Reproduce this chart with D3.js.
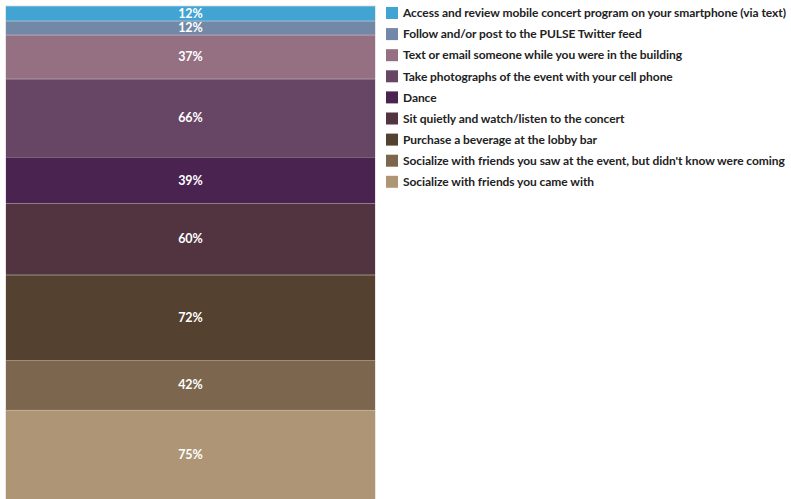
<!DOCTYPE html>
<html>
<head>
<meta charset="utf-8">
<script src="https://cdn.jsdelivr.net/npm/d3@7"></script>
<style>
  html, body { margin: 0; padding: 0; background: #fff; }
  svg { display: block; }
</style>
</head>
<body>
<div id="chart"></div>
<script>
// legend order, top to bottom
const activities = [
    "Access and review mobile concert program on your smartphone (via text)",
    "Follow and/or post to the PULSE Twitter feed",
    "Text or email someone while you were in the building",
    "Take photographs of the event with your cell phone",
    "Dance",
    "Sit quietly and watch/listen to the concert",
    "Purchase a beverage at the lobby bar",
    "Socialize with friends you saw at the event, but didn't know were coming",
    "Socialize with friends you came with"
];
const percents = [12, 12, 37, 66, 39, 60, 72, 42, 75];
const colors = ["#41a4d2", "#7189a6", "#956f82", "#674565", "#4a2350",
                "#51343f", "#55412f", "#7c664e", "#ae9576"];
const barName = ["Responses"];

(function() {
    const W = 791, H = 499;

    const svg = d3.select("#chart")
        .append("svg")
        .attr("width", W)
        .attr("height", H);

    // one row with all activities, stacked from the bottom up
    const row = {group: barName[0]};
    activities.forEach((a, i) => row[a] = percents[i]);

    const stackKeys = activities.slice().reverse();
    const series = d3.stack().keys(stackKeys)([row]);
    const total = d3.sum(percents);

    const color = d3.scaleOrdinal()
        .domain(activities)
        .range(colors);

    const x = d3.scaleBand()
        .domain(barName)
        .range([6, 375])
        .padding(0);

    const y = d3.scaleLinear()
        .domain([0, total])
        .range([499, 6.3]);

    // faint frame behind the bar
    svg.append("rect")
        .attr("x", x(barName[0]) - 1)
        .attr("y", y(total) - 1)
        .attr("width", x.bandwidth() + 2)
        .attr("height", y(0) - y(total) + 2)
        .attr("fill", "#e6e6e6");

    const layers = svg.selectAll("g.layer")
        .data(series)
        .enter()
        .append("g")
        .attr("class", "layer")
        .attr("fill", d => color(d.key));

    layers.selectAll("rect")
        .data(d => d)
        .enter()
        .append("rect")
        .attr("x", d => x(d.data.group))
        .attr("y", d => y(d[1]))
        .attr("width", x.bandwidth())
        .attr("height", d => y(d[0]) - y(d[1]));

    // thin light separators between segments
    svg.selectAll("line.sep")
        .data(series.slice(1))
        .enter()
        .append("line")
        .attr("class", "sep")
        .attr("x1", x(barName[0]))
        .attr("x2", x(barName[0]) + x.bandwidth())
        .attr("y1", d => Math.round(y(d[0][0])) + 0.5)
        .attr("y2", d => Math.round(y(d[0][0])) + 0.5)
        .attr("stroke", "rgba(255,255,255,0.22)")
        .attr("stroke-width", 1);

    // value labels
    svg.selectAll("text.val")
        .data(series)
        .enter()
        .append("text")
        .attr("class", "val")
        .attr("x", x(barName[0]) + x.bandwidth() / 2)
        .attr("y", d => (y(d[0][0]) + y(d[0][1])) / 2)
        .attr("dy", "0.35em")
        .attr("text-anchor", "middle")
        .style("fill", "#fff")
        .style("font-family", "Lato, 'Open Sans', sans-serif")
        .style("font-weight", "700")
        .style("font-size", "12.5px")
        .text(d => d[0].data[d.key] + "%");

    // legend
    const legend = svg.append("g")
        .attr("transform", "translate(386, 7)");

    const labels = [];
    activities.forEach((a, i) => {
        const item = legend.append("g")
            .attr("transform", `translate(0, ${i * 21.1})`);

        item.append("rect")
            .attr("width", 12)
            .attr("height", 12)
            .attr("fill", color(a));

        labels.push(item.append("text")
            .attr("x", 17)
            .attr("y", 6)
            .attr("dy", "0.35em")
            .style("fill", "#222")
            .style("font-family", "Lato, 'Open Sans', sans-serif")
            .style("font-weight", "700")
            .style("font-size", "12px")
            .text(a));
    });

    // stretch legend texts a little so the longest line ends near the right edge
    const longest = d3.max(labels, t => t.node().getComputedTextLength());
    const k = Math.min(1.04, 383 / longest);
    labels.forEach(t => {
        const len = t.node().getComputedTextLength();
        t.attr("textLength", len * k).attr("lengthAdjust", "spacing");
    });
})();
</script>
</body>
</html>
